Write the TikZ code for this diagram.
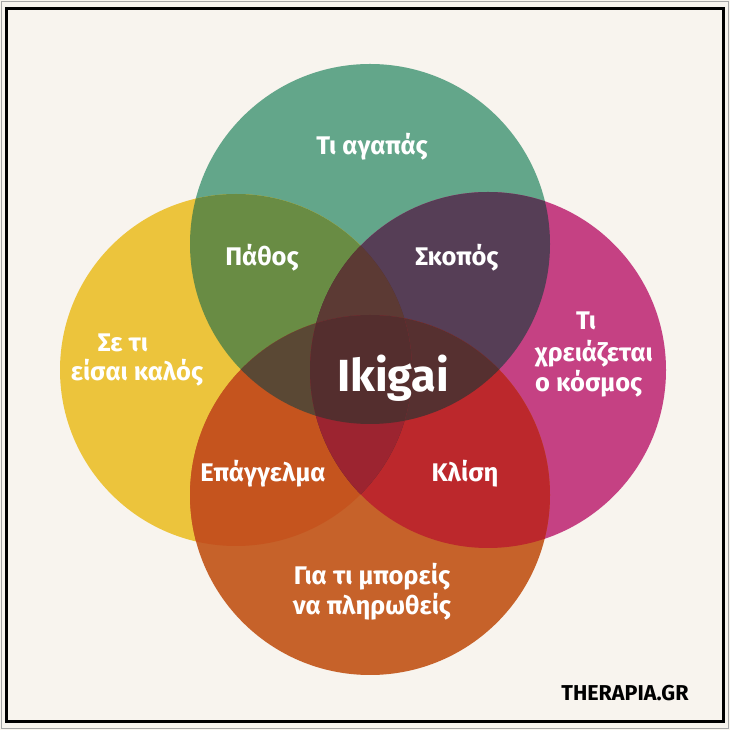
\documentclass[tikz,border=0pt]{standalone}
\usepackage{fontspec}
\setmainfont{Fira Sans}
\definecolor{bgcream}{HTML}{F8F4EE}
\definecolor{cG}{HTML}{63A68A}
\definecolor{cY}{HTML}{ECC43C}
\definecolor{cM}{HTML}{C54183}
\definecolor{cO}{HTML}{C6622A}
\definecolor{cGY}{HTML}{698C44}
\definecolor{cGM}{HTML}{563E56}
\definecolor{cYO}{HTML}{C5541E}
\definecolor{cMO}{HTML}{BC282C}
\definecolor{cGYM}{HTML}{5C3A34}
\definecolor{cGYO}{HTML}{5A4834}
\definecolor{cGMO}{HTML}{563030}
\definecolor{cYMO}{HTML}{9C2430}
\definecolor{cAll}{HTML}{542E2E}
\tikzset{
  lbl/.style={text=white,font=\bfseries\fontsize{25.5}{30}\selectfont,align=center,inner sep=0pt},
  lblleft/.style={lbl,align=left,anchor=west},
}
\begin{document}
\begin{tikzpicture}[x=1pt,y=1pt]
\useasboundingbox (0,0) rectangle (730,730);
\fill[bgcream] (0,0) rectangle (730,730);
\draw[gray!70,line width=1] (1.5,1.5) rectangle (728.5,728.5); %outer thin frame
\draw[black,line width=3] (6.5,8.5) rectangle (723.5,721.5);
% circle centres
\coordinate (G) at (370,486);
\coordinate (Y) at (236,360);
\coordinate (M) at (488,360);
\coordinate (O) at (370,235);
% single circles
\fill[cG] (G) circle [radius=180];
\fill[cY] (Y) circle [radius=176];
\fill[cM] (M) circle [radius=178];
\fill[cO] (O) circle [radius=180];
% two circles
\begin{scope}
\clip (G) circle [radius=180];
\fill[cGY] (Y) circle [radius=176];
\fill[cGM] (M) circle [radius=178];
\fill[cAll] (O) circle [radius=180];
\end{scope}
\begin{scope}
\clip (O) circle [radius=180];
\fill[cYO] (Y) circle [radius=176];
\fill[cMO] (M) circle [radius=178];
\end{scope}
\begin{scope}
\clip (Y) circle [radius=176];
\fill[cAll] (M) circle [radius=178];
\end{scope}
% three circles
\begin{scope}
\clip (G) circle [radius=180];
\clip (Y) circle [radius=176];
\fill[cGYM] (M) circle [radius=178];
\fill[cGYO] (O) circle [radius=180];
\end{scope}
\begin{scope}
\clip (G) circle [radius=180];
\clip (M) circle [radius=178];
\fill[cGMO] (O) circle [radius=180];
\end{scope}
\begin{scope}
\clip (Y) circle [radius=176];
\clip (M) circle [radius=178];
\fill[cYMO] (O) circle [radius=180];
\end{scope}
% four circles
\begin{scope}
\clip (G) circle [radius=180];
\clip (Y) circle [radius=176];
\clip (M) circle [radius=178];
\fill[cAll] (O) circle [radius=180];
\end{scope}
% labels
\node[lbl] (love) at (372,583) {Τι αγαπάς};
\node[lbl] (passion) at (262,472) {Πάθος};
\node[lbl] (mission) at (457,472) {Σκοπός};
\node[lbl] (good1) at (123,387) {Σε τι};
\node[lbl] (good2) at (137,357) {είσαι καλός};
\node[lbl] (need1) at (586,409) {Τι};
\node[lblleft] (need2) at (535,361) {χρειάζεται\\ο κόσμος};
\node[lbl,font=\bfseries\fontsize{45}{45}\selectfont] (ikigai) at (393,352) {Ikigai};
\node[lbl] (profession) at (263,256) {Επάγγελμα};
\node[lbl] (vocation) at (465,256) {Κλίση};
\node[lbl] (paid) at (372,138) {Για τι μπορείς\\να πληρωθείς};
\node[lbl,text=black,font=\bfseries\fontsize{21.5}{21.5}\selectfont] (brand) at (625,37) {THERAPIA.GR};
\end{tikzpicture}
\end{document}
